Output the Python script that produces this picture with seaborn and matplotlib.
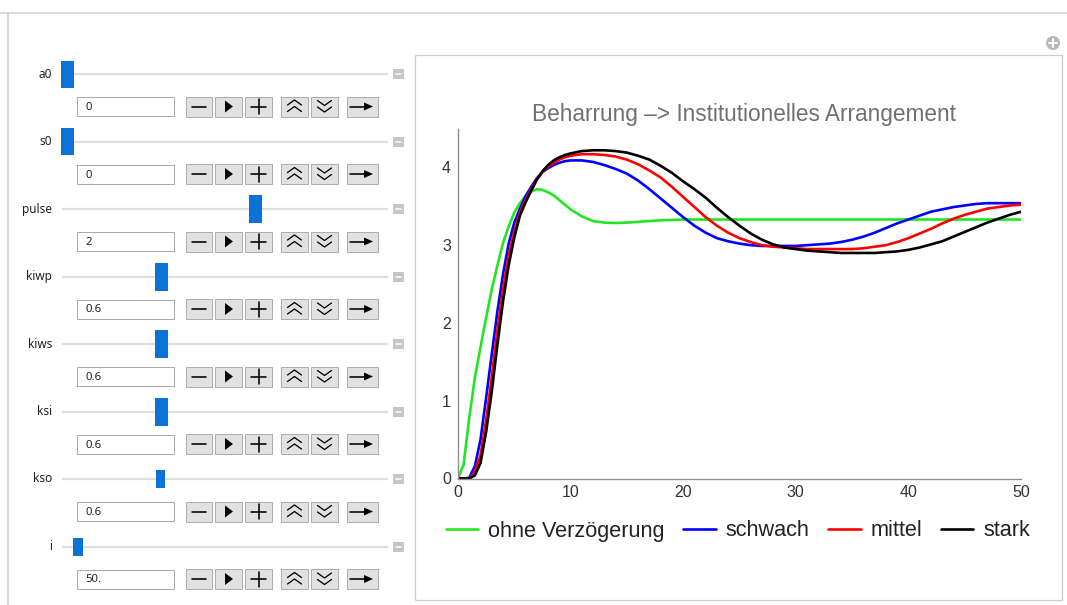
import numpy as np
import pandas as pd
import seaborn as sns
import matplotlib
matplotlib.use("Agg")
import matplotlib.pyplot as plt
from matplotlib.patches import Rectangle, Circle, Polygon
from matplotlib.ticker import MultipleLocator

# ---------------- data ----------------
t = [0, 0.5, 1, 1.5, 2, 2.5, 3, 3.5, 4, 4.5, 5, 5.5, 6, 6.5, 7, 7.5, 8, 8.5, 9, 9.5, 10,
     11, 12, 13, 14, 15, 16, 17, 18, 19, 20, 21, 22, 23, 24, 25, 26, 27, 28, 29, 30,
     31, 32, 33, 34, 35, 36, 37, 38, 39, 40, 41, 42, 43, 44, 45, 46, 47, 48, 49, 50]

ohne = [0, 0.18, 0.78, 1.3, 1.69, 2.07, 2.43, 2.74, 3.03, 3.24, 3.42, 3.54, 3.63, 3.69, 3.72,
        3.71, 3.68, 3.64, 3.58, 3.52, 3.46,
        3.37, 3.31, 3.29, 3.285, 3.29, 3.30, 3.31, 3.32, 3.325, 3.33,
        3.33, 3.33, 3.33, 3.33, 3.33, 3.33, 3.33, 3.33, 3.33, 3.33,
        3.33, 3.33, 3.33, 3.33, 3.33, 3.33, 3.33, 3.33, 3.33, 3.33,
        3.33, 3.33, 3.33, 3.33, 3.33, 3.33, 3.33, 3.33, 3.33, 3.33]

schwach = [0, 0, 0.01, 0.16, 0.5, 1.04, 1.6, 2.15, 2.63, 3.02, 3.29, 3.47, 3.63, 3.75, 3.86,
           3.94, 3.99, 4.03, 4.06, 4.08, 4.09,
           4.09, 4.07, 4.03, 3.98, 3.92, 3.83, 3.72, 3.60, 3.48, 3.36,
           3.25, 3.16, 3.09, 3.05, 3.02, 3.00, 2.99, 2.99, 2.99, 2.99,
           3.00, 3.01, 3.02, 3.04, 3.07, 3.11, 3.16, 3.22, 3.28, 3.33,
           3.38, 3.43, 3.46, 3.49, 3.51, 3.53, 3.54, 3.54, 3.54, 3.54]

mittel = [0, 0, 0, 0.08, 0.3, 0.75, 1.31, 1.91, 2.44, 2.86, 3.18, 3.42, 3.58, 3.72, 3.85,
          3.94, 4.01, 4.06, 4.10, 4.13, 4.15,
          4.17, 4.17, 4.16, 4.14, 4.10, 4.04, 3.96, 3.87, 3.75, 3.62,
          3.49, 3.36, 3.25, 3.16, 3.09, 3.04, 3.00, 2.98, 2.97, 2.96,
          2.95, 2.95, 2.95, 2.95, 2.95, 2.96, 2.98, 3.00, 3.04, 3.09,
          3.15, 3.21, 3.28, 3.34, 3.39, 3.43, 3.47, 3.49, 3.51, 3.52]

stark = [0, 0, 0, 0.04, 0.2, 0.6, 1.12, 1.72, 2.28, 2.74, 3.10, 3.38, 3.55, 3.70, 3.84,
         3.95, 4.03, 4.09, 4.13, 4.16, 4.18,
         4.21, 4.22, 4.22, 4.21, 4.19, 4.15, 4.10, 4.02, 3.93, 3.82,
         3.72, 3.61, 3.48, 3.36, 3.25, 3.15, 3.07, 3.01, 2.97, 2.95,
         2.93, 2.92, 2.91, 2.90, 2.90, 2.90, 2.90, 2.91, 2.92, 2.94,
         2.97, 3.01, 3.05, 3.11, 3.17, 3.23, 3.29, 3.34, 3.39, 3.43]

series_names = ["ohne Verzögerung", "schwach", "mittel", "stark"]
series_colors = ["#22e622", "#0000ff", "#ff0000", "#000000"]
title = "Beharrung \u2013> Institutionelles Arrangement"
x_ticks = [0, 10, 20, 30, 40, 50]
y_ticks = [0, 1, 2, 3, 4]

slider_names = ["a0", "s0", "pulse", "kiwp", "kiws", "ksi", "kso", "i"]
slider_values = ["0", "0", "2", "0.6", "0.6", "0.6", "0.6", "50."]

# ---------------- styling / layout ----------------
sns.set_theme(style="white")
plt.rcParams["font.family"] = ["Liberation Sans", "DejaVu Sans"]

W, H = 1067, 605
fig = plt.figure(figsize=(W / 100, H / 100), dpi=100)
fig.patch.set_facecolor("white")

bg = fig.add_axes([0, 0, 1, 1])
bg.set_xlim(0, W)
bg.set_ylim(H, 0)
bg.axis("off")

PX = 72 / 100  # points per pixel

# outer frame
bg.plot([0, W], [13, 13], color="#d2d2d2", lw=1.6 * PX)
bg.plot([8, 8], [13, H], color="#d2d2d2", lw=1.6 * PX)
# plot panel
bg.add_patch(Rectangle((415, 55), 647, 545, fc="white", ec="#cccccc", lw=1.2 * PX))
# plus icon
bg.add_patch(Circle((1053, 43), 7, fc="#b8b8b8", ec="none"))
bg.plot([1049, 1057], [43, 43], color="white", lw=2 * PX)
bg.plot([1053, 1053], [39, 47], color="white", lw=2 * PX)

thumbs = [(61, 13, 27), (61, 13, 27), (249, 13, 28), (155, 13, 28),
          (155, 13, 28), (155, 13, 28), (156, 9, 18), (73, 10, 18)]
btns = [(186, 212), (215, 242), (245, 272), (281, 308), (311, 338), (347, 378)]
blue_thumb = "#0b73d8"

for k, (name, val) in enumerate(zip(slider_names, slider_values)):
    sy = 74 + 67.5 * k
    bg.text(52, sy, name, ha="right", va="center", fontsize=8.5, color="#222222",
            family=["Noto Sans", "DejaVu Sans"])
    bg.plot([62, 388], [sy, sy], color="#dfdfdf", lw=2.2 * PX, solid_capstyle="butt",
            zorder=1)
    tx, tw, th = thumbs[k]
    bg.add_patch(Rectangle((tx, sy - th / 2), tw, th, fc=blue_thumb, ec="none", zorder=3))
    bg.add_patch(Rectangle((393, sy - 5), 11, 10, fc="#c6c6c6", ec="none", zorder=3))
    bg.plot([396, 401], [sy, sy], color="white", lw=1.5 * PX, zorder=4)

    iy = sy + 32.5
    bg.add_patch(Rectangle((77, iy - 9.5), 97, 19, fc="white", ec="#ababab", lw=1 * PX))
    bg.text(85, iy + 1, val, ha="left", va="center", fontsize=8.2, color="#222222",
            family=["Noto Sans", "DejaVu Sans"])
    for (x0, x1) in btns:
        bg.add_patch(Rectangle((x0, iy - 10), x1 - x0, 20, fc="#e1e1e1", ec="#adadad",
                               lw=1 * PX))
    glw = 1.6 * PX
    # minus
    bg.plot([192, 206], [iy, iy], color="black", lw=glw, zorder=4)
    # play
    bg.add_patch(Polygon([(225, iy - 6), (225, iy + 6), (233, iy)], closed=True,
                         fc="black", ec="none", zorder=4))
    # plus
    bg.plot([251, 266], [iy, iy], color="black", lw=glw, zorder=4)
    bg.plot([258.5, 258.5], [iy - 7.5, iy + 7.5], color="black", lw=glw, zorder=4)
    # double chevron up
    cx = 294.5
    for dy in (-6.5, 0):
        bg.plot([cx - 7, cx, cx + 7], [iy + dy + 5, iy + dy, iy + dy + 5], color="black",
                lw=1.3 * PX, zorder=4)
    # double chevron down
    cx = 324.5
    for dy in (-6, 0.5):
        bg.plot([cx - 7, cx, cx + 7], [iy + dy, iy + dy + 5, iy + dy], color="black",
                lw=1.3 * PX, zorder=4)
    # arrow
    bg.plot([350, 366], [iy, iy], color="black", lw=glw, zorder=4)
    bg.add_patch(Polygon([(364, iy - 4), (364, iy + 4), (373, iy)], closed=True,
                         fc="black", ec="none", zorder=4))

# ---------------- chart ----------------
x0_px, x1_px = 458, 1021
y0_px, ytop_px = 478.5, 129.3
ax = fig.add_axes([x0_px / W, (H - y0_px) / H, (x1_px - x0_px) / W, (y0_px - ytop_px) / H])
ax.set_facecolor("none")

df = pd.DataFrame({
    "t": t * 4,
    "y": ohne + schwach + mittel + stark,
    "Serie": sum([[n] * len(t) for n in series_names], []),
})
sns.lineplot(data=df, x="t", y="y", hue="Serie", hue_order=series_names,
             palette=dict(zip(series_names, series_colors)), linewidth=1.9,
             estimator=None, sort=False, ax=ax)

ax.set_xlim(0, 50)
ax.set_ylim(0, 4.49)
ax.set_xticks(x_ticks)
ax.set_yticks(y_ticks)
ax.xaxis.set_minor_locator(MultipleLocator(2))
ax.yaxis.set_minor_locator(MultipleLocator(0.2))
ax.set_xlabel("")
ax.set_ylabel("")
spine_col = "#8f8f8f"
for s in ["top", "right"]:
    ax.spines[s].set_visible(False)
for s in ["left", "bottom"]:
    ax.spines[s].set_color(spine_col)
    ax.spines[s].set_linewidth(1.0)
ax.tick_params(axis="both", which="major", direction="in", length=4.5, width=0.8,
               color=spine_col, labelsize=11.5, labelcolor="#333333")
ax.tick_params(axis="both", which="minor", direction="in", length=2.5, width=0.7,
               color=spine_col)
ax.tick_params(axis="x", which="major", pad=5)
ax.tick_params(axis="y", which="major", pad=5)
ax.grid(False)

fig.text(743.5 / W, 1 - 114 / H, title, ha="center", va="center", fontsize=16.3,
         color="#707070")

handles, labels = ax.get_legend_handles_labels()
ax.legend(handles, labels, loc="center", bbox_to_anchor=(738 / W, 1 - 531 / H),
          bbox_transform=fig.transFigure, ncol=4, frameon=False, fontsize=15.6,
          handlelength=1.5, handletextpad=0.47, columnspacing=0.85, borderpad=0,
          labelcolor="#222222")

fig.savefig("out.png", dpi=100, facecolor="white")
